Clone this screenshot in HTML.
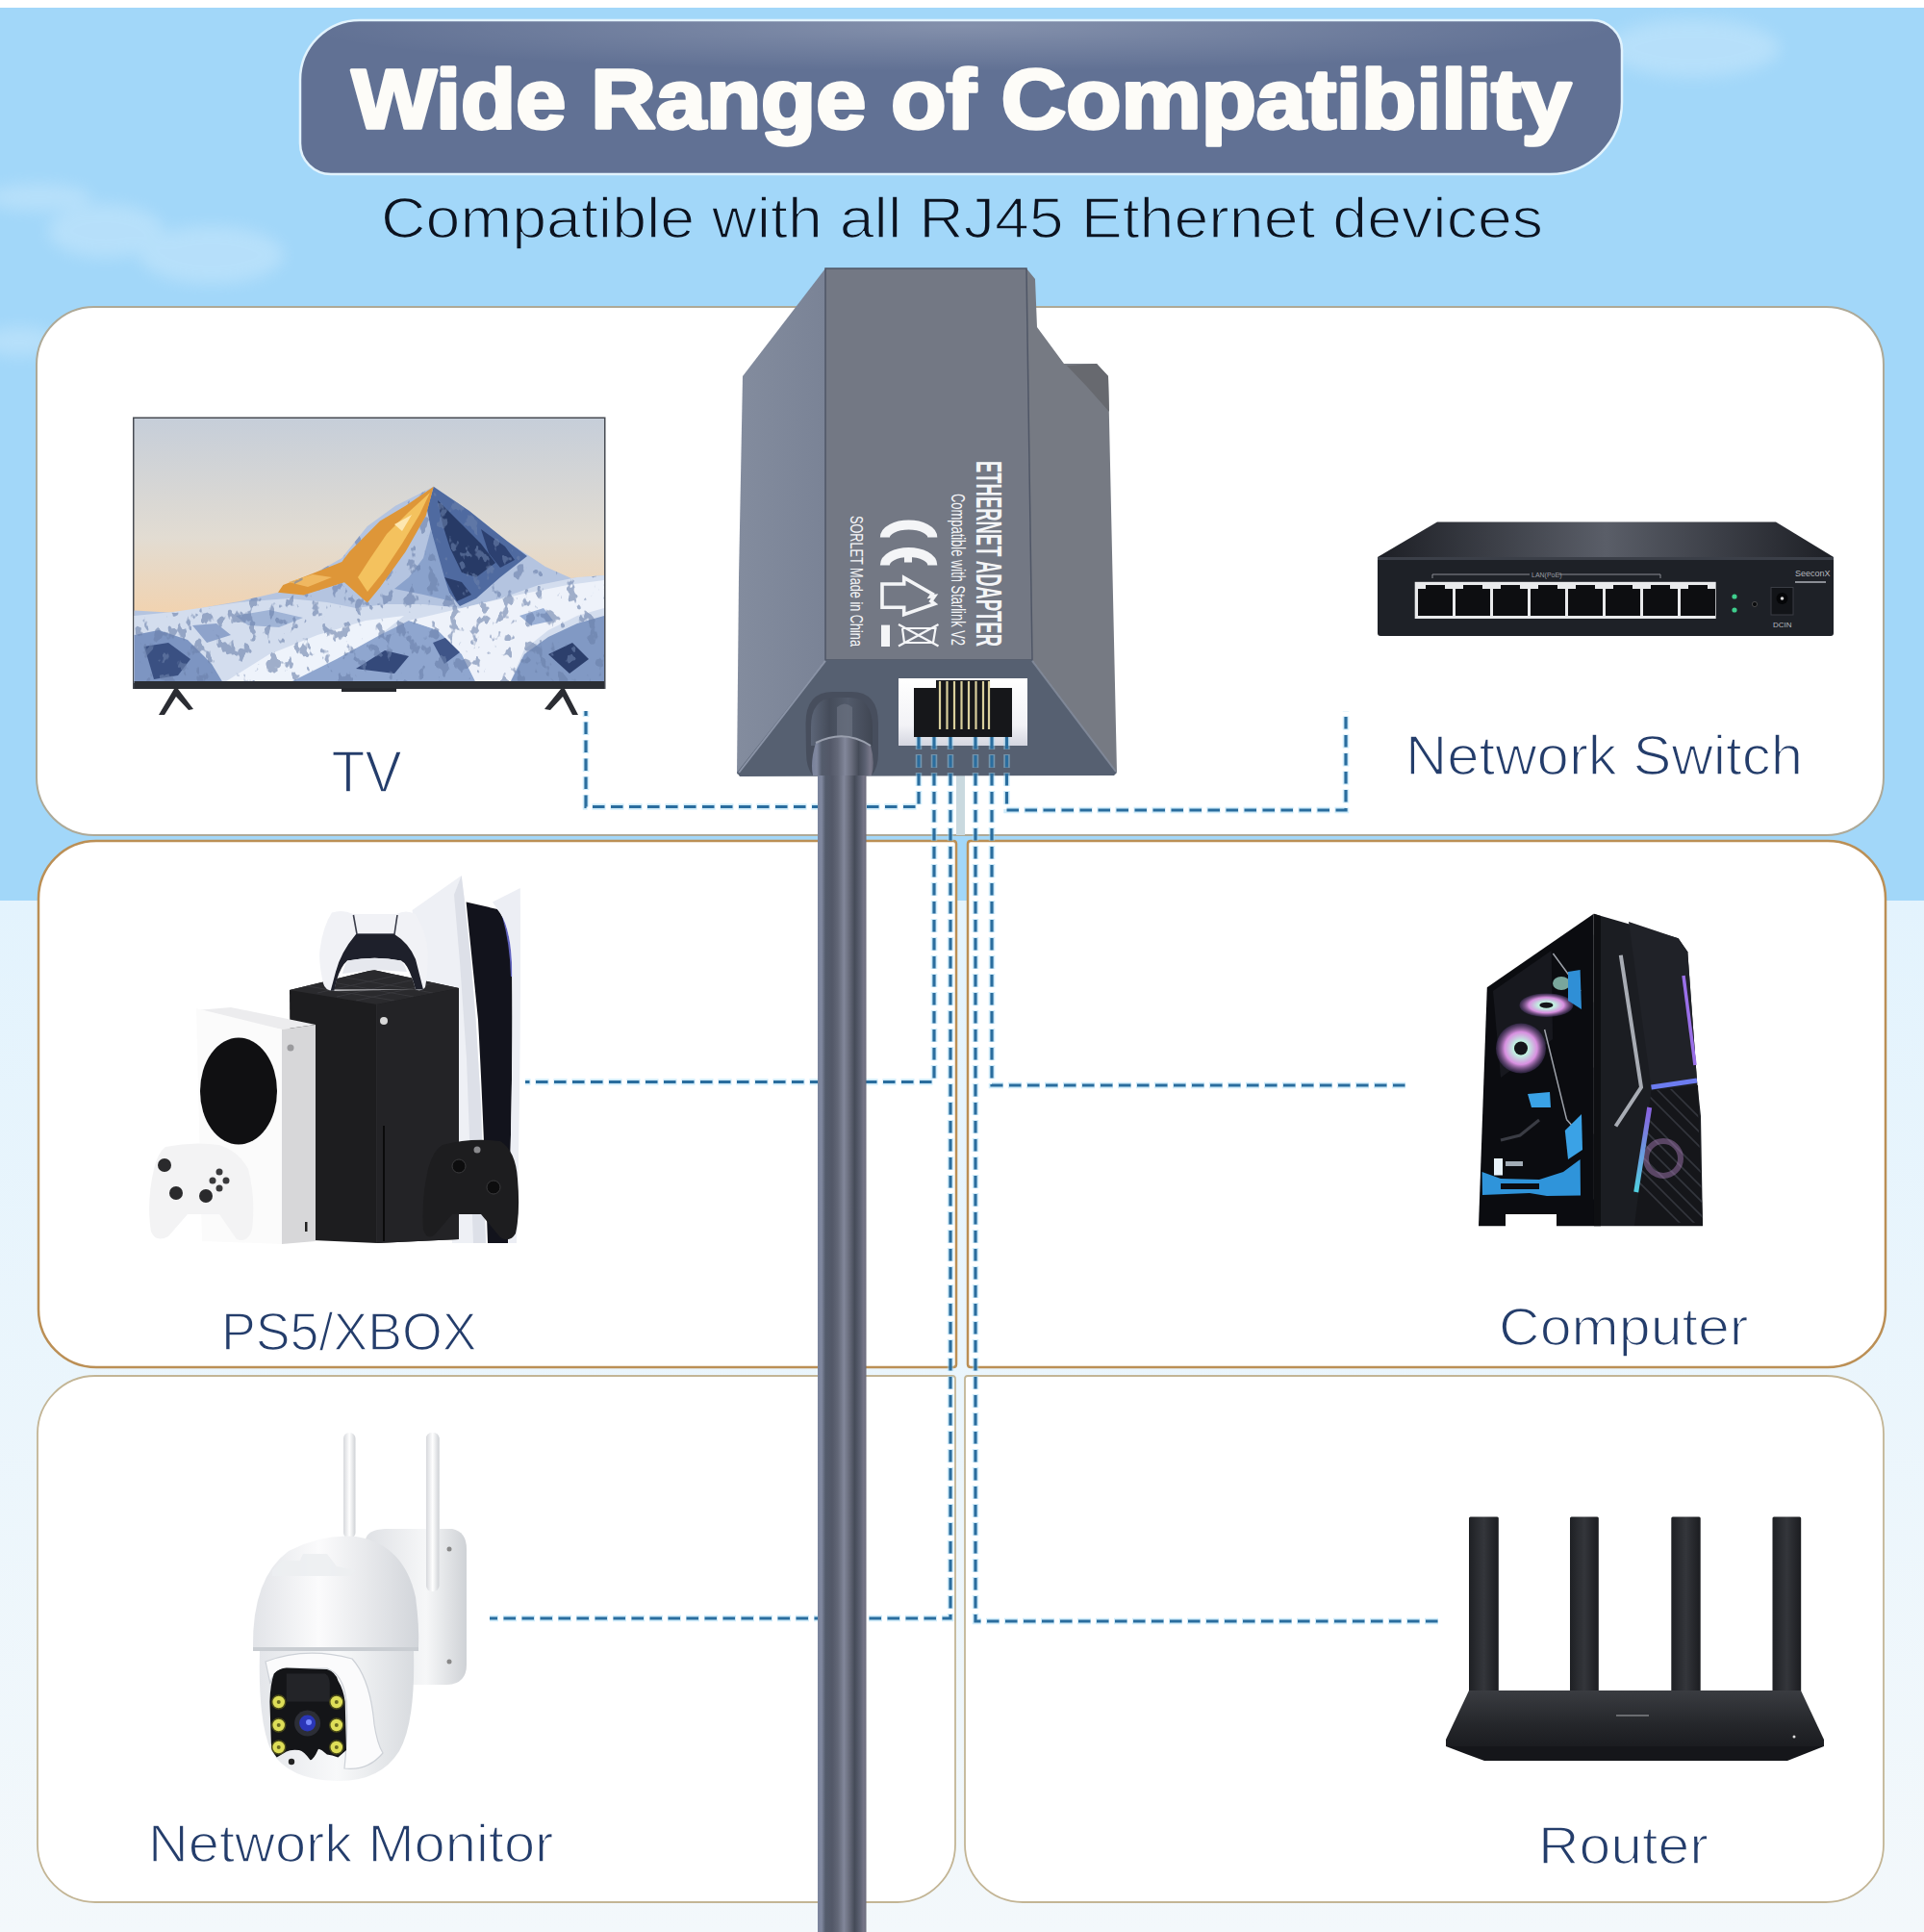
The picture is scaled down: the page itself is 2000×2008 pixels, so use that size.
<!DOCTYPE html>
<html><head><meta charset="utf-8">
<style>
html,body{margin:0;padding:0;width:2000px;height:2008px;overflow:hidden;background:#fff;}
svg{display:block;font-family:"Liberation Sans",sans-serif;}
</style></head>
<body>
<svg width="2000" height="2008" viewBox="0 0 2000 2008">
<defs>
  <filter id="rock" x="0" y="0" width="100%" height="100%">
    <feTurbulence type="fractalNoise" baseFrequency="0.09 0.06" numOctaves="3" seed="7" result="n"/>
    <feColorMatrix in="n" type="matrix" values="0 0 0 0 0.15  0 0 0 0 0.22  0 0 0 0 0.40  -16 0 0 0 6.6" result="c"/>
    <feComposite in="c" in2="SourceGraphic" operator="in"/>
  </filter>
  <clipPath id="tvMount"><path clip-rule="evenodd" d="M139.5 634.4 L183 637 L217.5 630.4 L249 625 L289 615.8 L320 600 L355.3 580 L381.8 547 L411 525.7 L450.7 505.8 L487.8 531 L527.6 562.8 L567 589 L593.8 601 L628 598 V708 H139.5 Z M450.7 505.8 L421.5 525.7 L395 541.6 L363.2 573.4 L355.3 584 L320 598 L294.3 607.9 L289 615.8 L315.5 618.5 L358 605.2 L381.8 626.4 L395 610.5 L421.5 573.4 L442.7 536.3 Z"/></clipPath>
  <clipPath id="pcGrill"><path d="M1716.5 1133.5 L1764 1130 L1770 1270.7 H1699 Z"/></clipPath>
  <linearGradient id="ledG" x1="0" y1="0" x2="0" y2="1"><stop offset="0" stop-color="#8a60e0"/><stop offset="1" stop-color="#50d0e0"/></linearGradient>
  <clipPath id="xbTop"><path d="M301 1029 L388 1008 L477 1027 L392 1044 Z"/></clipPath>
  <filter id="blur8" x="-50%" y="-50%" width="200%" height="200%"><feGaussianBlur stdDeviation="8"/></filter>
  <linearGradient id="bgLow" x1="0" y1="0" x2="0" y2="1">
    <stop offset="0" stop-color="#e3f3fd"/>
    <stop offset="1" stop-color="#f3f8fb"/>
  </linearGradient>
  <linearGradient id="cableG" x1="0" y1="0" x2="1" y2="0">
    <stop offset="0" stop-color="#7a839c"/>
    <stop offset="0.08" stop-color="#80889f"/>
    <stop offset="0.16" stop-color="#545c6c"/>
    <stop offset="0.3" stop-color="#535868"/>
    <stop offset="0.42" stop-color="#636878"/>
    <stop offset="0.54" stop-color="#82879a"/>
    <stop offset="0.64" stop-color="#6a6e7e"/>
    <stop offset="0.76" stop-color="#454b58"/>
    <stop offset="0.87" stop-color="#5c6172"/>
    <stop offset="0.95" stop-color="#777789"/>
    <stop offset="1" stop-color="#6a6a7a"/>
  </linearGradient>
  <linearGradient id="collarG" x1="0" y1="0" x2="1" y2="0">
    <stop offset="0" stop-color="#5c6577"/>
    <stop offset="0.3" stop-color="#454c5a"/>
    <stop offset="0.6" stop-color="#525a6a"/>
    <stop offset="1" stop-color="#404653"/>
  </linearGradient>
  <linearGradient id="leftG" x1="0" y1="0" x2="1" y2="0">
    <stop offset="0" stop-color="#838c9e"/>
    <stop offset="1" stop-color="#7a8396"/>
  </linearGradient>
  <linearGradient id="portG" x1="0" y1="0" x2="0" y2="1">
    <stop offset="0" stop-color="#ffffff"/>
    <stop offset="0.7" stop-color="#f2f2f6"/>
    <stop offset="1" stop-color="#d4d6e0"/>
  </linearGradient>
  <linearGradient id="tvSky" x1="0" y1="0" x2="0" y2="1">
    <stop offset="0" stop-color="#c6ced9"/>
    <stop offset="0.45" stop-color="#e2dcd2"/>
    <stop offset="0.75" stop-color="#f2d2ae"/>
    <stop offset="1" stop-color="#f0c9a2"/>
  </linearGradient>
  <linearGradient id="swTop" x1="0" y1="0" x2="1" y2="0">
    <stop offset="0" stop-color="#1d1f25"/>
    <stop offset="0.5" stop-color="#5a5e68"/>
    <stop offset="1" stop-color="#1d1f25"/>
  </linearGradient>
  <radialGradient id="fanG">
    <stop offset="0" stop-color="#ffffff"/>
    <stop offset="0.3" stop-color="#c0f0e0"/>
    <stop offset="0.65" stop-color="#d890e0"/>
    <stop offset="1" stop-color="#40305a" stop-opacity="0.6"/>
  </radialGradient>
  <linearGradient id="antG" x1="0" y1="0" x2="1" y2="0">
    <stop offset="0" stop-color="#d6d8dc"/>
    <stop offset="0.5" stop-color="#ffffff"/>
    <stop offset="1" stop-color="#cfd2d6"/>
  </linearGradient>
  <linearGradient id="mountG" x1="0" y1="0" x2="1" y2="0">
    <stop offset="0" stop-color="#dfe1e5"/>
    <stop offset="0.6" stop-color="#f6f7f8"/>
    <stop offset="1" stop-color="#cfd2d6"/>
  </linearGradient>
  <linearGradient id="domeG" x1="0" y1="0" x2="1" y2="0">
    <stop offset="0" stop-color="#e2e4e8"/>
    <stop offset="0.4" stop-color="#fbfbfc"/>
    <stop offset="1" stop-color="#d2d5da"/>
  </linearGradient>
  <linearGradient id="bodyG" x1="0" y1="0" x2="1" y2="0">
    <stop offset="0" stop-color="#e4e6ea"/>
    <stop offset="0.5" stop-color="#f8f9fa"/>
    <stop offset="1" stop-color="#d8dbdf"/>
  </linearGradient>
  <linearGradient id="rAnt" x1="0" y1="0" x2="1" y2="0">
    <stop offset="0" stop-color="#1e2024"/>
    <stop offset="0.5" stop-color="#34363b"/>
    <stop offset="1" stop-color="#1b1c20"/>
  </linearGradient>
  <linearGradient id="rBody" x1="0" y1="0" x2="0" y2="1">
    <stop offset="0" stop-color="#3a3c41"/>
    <stop offset="0.6" stop-color="#25272b"/>
    <stop offset="1" stop-color="#1b1c20"/>
  </linearGradient>
  <radialGradient id="pillHi" cx="0.5" cy="0.05" r="0.5" gradientTransform="translate(0 0) scale(1 0.6)">
    <stop offset="0" stop-color="#ffffff" stop-opacity="0.22"/>
    <stop offset="1" stop-color="#ffffff" stop-opacity="0"/>
  </radialGradient>
</defs>

<!-- background -->
<rect x="0" y="0" width="2000" height="8" fill="#ffffff"/>
<rect x="0" y="8" width="2000" height="928" fill="#a2d7f9"/>
<rect x="0" y="936" width="2000" height="1072" fill="url(#bgLow)"/>
<g fill="#ffffff" opacity="0.22" filter="url(#blur8)">
  <ellipse cx="40" cy="205" rx="55" ry="14"/>
  <ellipse cx="110" cy="240" rx="60" ry="28"/>
  <ellipse cx="220" cy="265" rx="75" ry="30"/>
  <ellipse cx="20" cy="355" rx="40" ry="15"/>
  <ellipse cx="1760" cy="50" rx="90" ry="30"/>
</g>

<!-- title pill -->
<path d="M374 21 H1655 A31 31 0 0 1 1686 52 V106 A75 75 0 0 1 1611 181 H344 A32 32 0 0 1 312 149 V83 A62 62 0 0 1 374 21 Z" fill="#617194" stroke="#e2f3fd" stroke-width="2.5"/>
<path d="M374 22 H1655 A30 30 0 0 1 1685 52 V106 A74 74 0 0 1 1611 180 H344 A31 31 0 0 1 313 149 V83 A61 61 0 0 1 374 22 Z" fill="url(#pillHi)"/>
<text x="365.5" y="133.3" font-size="87.5" font-weight="bold" fill="#fdfcf8" stroke="#fdfcf8" stroke-width="3.5" stroke-linejoin="round" textLength="1268" lengthAdjust="spacingAndGlyphs">Wide Range of Compatibility</text>
<text x="396" y="246.5" font-size="59" fill="#0c1320" stroke="#a2d7f9" stroke-width="1.5" textLength="1208" lengthAdjust="spacingAndGlyphs">Compatible with all RJ45 Ethernet devices</text>

<!-- cards -->
<g id="cards" fill="#ffffff" stroke-width="2">
  <rect x="38" y="319" width="1920" height="549" rx="60" stroke="#aea997"/>
  <path d="M100 874 H991 Q994 874 994 877 V1418 Q994 1421 991 1421 H100 A60 60 0 0 1 40 1361 V934 A60 60 0 0 1 100 874 Z" stroke="#bb8f55" stroke-width="2.5"/>
  <path d="M1009 874 H1900 A60 60 0 0 1 1960 934 V1361 A60 60 0 0 1 1900 1421 H1009 Q1006 1421 1006 1418 V877 Q1006 874 1009 874 Z" stroke="#bb8f55" stroke-width="2.5"/>
  <path d="M99 1430 H990 Q993 1430 993 1433 V1917 A60 60 0 0 1 933 1977 H99 A60 60 0 0 1 39 1917 V1490 A60 60 0 0 1 99 1430 Z" stroke="#c3b595" stroke-width="1.8"/>
  <path d="M1006 1430 H1898 A60 60 0 0 1 1958 1490 V1917 A60 60 0 0 1 1898 1977 H1063 A60 60 0 0 1 1003 1917 V1433 Q1003 1430 1006 1430 Z" stroke="#c3b595" stroke-width="1.8"/>
</g>
<rect x="994" y="805" width="9" height="63" fill="#c9d9df"/>


<!-- labels -->
<g fill="#243d6b" stroke="#ffffff" stroke-width="1.6">
  <text x="344.5" y="823.3" font-size="60.5" textLength="73" lengthAdjust="spacingAndGlyphs">TV</text>
  <text x="1461" y="804.6" font-size="56.5" textLength="413" lengthAdjust="spacingAndGlyphs">Network Switch</text>
  <text x="230" y="1402.9" font-size="56" textLength="265.6" lengthAdjust="spacingAndGlyphs">PS5/XBOX</text>
  <text x="1558" y="1398.2" font-size="56" textLength="259.5" lengthAdjust="spacingAndGlyphs">Computer</text>
  <text x="154" y="1934.5" font-size="56" textLength="421.4" lengthAdjust="spacingAndGlyphs">Network Monitor</text>
  <text x="1599" y="1937" font-size="56" textLength="176.8" lengthAdjust="spacingAndGlyphs">Router</text>
</g>

<!-- DEVICES -->
<!-- TV -->
<g id="tv">
  <rect x="138" y="433.5" width="491.5" height="282.5" fill="#474b52"/>
  <rect x="139.5" y="435" width="488.5" height="275" fill="url(#tvSky)"/>
  <!-- main mountain base -->
  <path d="M139.5 634.4 L183 637 L217.5 630.4 L249 625 L289 615.8 L320 600 L355.3 580 L381.8 547 L411 525.7 L450.7 505.8 L487.8 531 L527.6 562.8 L567 589 L593.8 601 L628 598 V710 H139.5 Z" fill="#b4c4e0"/>
  <!-- right face shadow -->
  <path d="M450.7 505.8 L487.8 531 L527.6 562.8 L548 578 L520 600 L495 622 L478 630 L462 610 L455 585 L448 550 L444 530 Z" fill="#4f6aa0"/>
  <path d="M455 520 L475 540 L500 565 L515 585 L495 600 L480 595 L468 570 L460 545 Z" fill="#273a66"/>
  <path d="M500 550 L525 568 L535 582 L520 590 L508 575 Z" fill="#2c4070"/>
  <path d="M462 600 L480 605 L490 618 L475 625 Z" fill="#2a3d6a"/>
  <path d="M448 550 L440 580 L425 600 L410 612 L440 618 L470 625 L462 600 L455 575 Z" fill="#8aa2cc"/>
  <!-- golden face -->
  <path d="M450.7 505.8 L421.5 525.7 L395 541.6 L363.2 573.4 L355.3 584 L320 598 L294.3 607.9 L289 615.8 L315.5 618.5 L358 605.2 L381.8 626.4 L395 610.5 L421.5 573.4 L442.7 536.3 Z" fill="#de9638"/>
  <path d="M447 512 L425 532 L402 555 L385 580 L372 600 L382 615 L398 595 L418 565 L436 535 Z" fill="#f4c25e"/>
  <path d="M300 605 L325 597 L345 600 L320 610 Z" fill="#f0b860"/>
  <path d="M428 535 L418 552 L410 545 Z" fill="#fde7b0"/>
  <!-- foreground snowfield -->
  <path d="M139.5 640 L180 636 L249 626 L300 622 L340 626 L370 632 L400 628 L440 628 L480 632 L520 622 L560 608 L600 600 L628 598 V710 H139.5 Z" fill="#d3ddee"/>
  <path d="M139.5 660 L165 655 L195 665 L220 690 L232 710 H139.5 Z" fill="#7d95c2"/>
  <path d="M150 672 L175 668 L198 685 L185 702 L160 706 Z" fill="#3a5082"/>
  <path d="M200 650 L225 648 L240 660 L215 668 Z" fill="#8ea3cb"/>
  <path d="M232 710 L280 680 L330 660 L380 645 L420 640 L395 660 L350 685 L300 710 Z" fill="#eef3fb"/>
  <path d="M300 710 L350 685 L395 660 L425 645 L455 655 L480 680 L495 710 Z" fill="#8fa6cf"/>
  <path d="M370 695 L400 676 L425 682 L410 700 Z" fill="#34497a"/>
  <path d="M450 668 L470 660 L482 675 L462 690 Z" fill="#3f5588"/>
  <path d="M425 645 L480 632 L540 618 L590 608 L628 603 V632 L600 640 L570 655 L545 675 L530 710 H495 L480 680 L455 655 Z" fill="#eef2fa"/>
  <path d="M530 710 L545 680 L570 662 L600 648 L628 640 V710 Z" fill="#8199c4"/>
  <path d="M570 680 L595 668 L612 685 L592 700 Z" fill="#2c3f6c"/>
  <path d="M540 640 L565 632 L575 645 L552 650 Z" fill="#9ab0d6"/>
  <path d="M245 640 L280 634 L315 642 L290 652 L258 650 Z" fill="#a0b4d6"/>
  <g clip-path="url(#tvMount)"><rect x="139.5" y="500" width="488.5" height="210" fill="#000" filter="url(#rock)" opacity="0.6"/></g>
  <rect x="139.5" y="708" width="488.5" height="8" fill="#2b2e34"/>
  <rect x="355" y="715" width="57" height="4" fill="#26282e"/>
  <!-- feet -->
  <path d="M181 716 L185 716 L201 737 L196 738 L183 724 L171 743 L165 743 Z" fill="#2b2d33"/>
  <path d="M583 716 L587 716 L601 743 L595 743 L585 724 L572 738 L566 737 Z" fill="#2b2d33"/>
</g>

<!-- Network switch -->
<g id="switch">
  <path d="M1494 542.5 H1846 L1906 579 V583 H1432 V579 Z" fill="url(#swTop)"/>
  <rect x="1432" y="579" width="474" height="82" rx="3" fill="#1e2127"/>
  <rect x="1432" y="579" width="474" height="3" fill="#3b3f48"/>
  <rect x="1470.7" y="604.8" width="313" height="38.2" fill="#e9eaec"/>
  <g fill="#0d0e11">
    <path d="M1474 612 h8 v-4 h20 v4 h8 v28 h-36 z"/>
    <path d="M1513 612 h8 v-4 h20 v4 h8 v28 h-36 z"/>
    <path d="M1552 612 h8 v-4 h20 v4 h8 v28 h-36 z"/>
    <path d="M1591 612 h8 v-4 h20 v4 h8 v28 h-36 z"/>
    <path d="M1630 612 h8 v-4 h20 v4 h8 v28 h-36 z"/>
    <path d="M1669 612 h8 v-4 h20 v4 h8 v28 h-36 z"/>
    <path d="M1708 612 h8 v-4 h20 v4 h8 v28 h-36 z"/>
    <path d="M1747 612 h8 v-4 h20 v4 h8 v28 h-36 z"/>
  </g>
  <path d="M1489 601 V597 H1726 V601" stroke="#8a8d94" stroke-width="1" fill="none"/>
  <rect x="1590" y="593" width="30" height="8" fill="#1e2127"/>
  <text x="1592" y="600" font-size="7" fill="#9a9da4">LAN(PoE)</text>
  <circle cx="1803" cy="620" r="2.6" fill="#3fcf8e"/>
  <circle cx="1803" cy="634" r="2.6" fill="#3fcf8e"/>
  <circle cx="1824" cy="628" r="2.6" fill="#0a0b0d" stroke="#555" stroke-width="0.8"/>
  <rect x="1841" y="610.5" width="23" height="28.5" fill="#121418" stroke="#3a3d44" stroke-width="1"/>
  <circle cx="1852.5" cy="622" r="6" fill="#050608"/>
  <circle cx="1852.5" cy="622" r="1.8" fill="#d8d8d8"/>
  <text x="1843" y="652" font-size="8" fill="#b5b8be">DCIN</text>
  <text x="1866" y="599" font-size="9" fill="#b5b8be">SeeconX</text>
  <rect x="1866" y="604" width="32" height="2" fill="#8a8d94"/>
</g>

<!-- Consoles -->
<g id="consoles">
  <!-- PS5 plates & core -->
  <path d="M428.5 946 L479.7 910 L483 937 L489.6 1000 L494.6 1060 L500 1150 L505 1292 H470 L450 1100 Z" fill="#eef0f5"/>
  <path d="M479.7 910 L483 937 L489.6 1000 L494.6 1060 L500 1150 L505 1292 H492 L485 1100 L478 1000 L472 930 Z" fill="#dde0e8"/>
  <path d="M484.6 937.4 L517 945 Q530 960 532 1000 Q534 1100 528 1292 H507 Q502 1150 497 1060 Q490 990 484.6 937.4 Z" fill="#12131c"/>
  <path d="M524 952 Q532 980 533 1015" stroke="#7a7cf0" stroke-width="4" fill="none" opacity="0.75"/>
  <path d="M512 937.4 L540.8 923 Q542 1100 537 1292 H528 Q534 1100 532 1000 Q530 960 517 945 Z" fill="#eceef4"/>
  <!-- Xbox Series X -->
  <path d="M301 1029 L388 1008 L477 1027 L477 1288 L392 1292 L303 1288 Z" fill="#1d1d1f"/>
  <path d="M301 1029 L388 1008 L477 1027 L392 1044 Z" fill="#2a2a2d"/>
  <g stroke="#3c3c40" stroke-width="1" opacity="0.8" clip-path="url(#xbTop)"><path d="M320 1025 L410 1040 M340 1020 L430 1036 M360 1016 L450 1032 M330 1032 L420 1012 M350 1036 L440 1016 M370 1040 L460 1020"/></g>
  <path d="M392 1044 V1292" stroke="#2c2c30" stroke-width="1.5"/>
  <path d="M392 1044 L477 1027 V1288 L392 1292 Z" fill="#232326"/>
  <circle cx="399" cy="1061" r="4" fill="#d8d8d8"/>
  <rect x="398" y="1170" width="2" height="120" fill="#0a0a0b"/>
  <!-- DualSense -->
  <path fill-rule="evenodd" d="M345 948.6 Q356 945 367 950 H412 Q422 945 432 950 Q444 970 444.7 990 Q445 1010 442 1026 Q438 1031 432 1028.5 L347 1029.7 Q338 1030 336 1022 Q331 1000 332.5 987 Q336 962 345 948.6 Z M361 998.5 Q390 993 417 998.5 Q425 1002 432 1028.5 H347.4 Q352 1006 361 998.5 Z" fill="#f1f2f6"/>
  <path d="M367.4 951 L371 971 H410 L413 951" stroke="#3a3d4a" stroke-width="1.6" fill="none"/>
  <path d="M370 971 H410 Q425 980 432 997 L440 1028.5 L432 1028.5 Q425 1002 417 998.5 Q390 993 361 998.5 Q352 1006 347.4 1029.7 L343.7 1029.7 L349 1010 Q354 990 370 971 Z" fill="#1e202b"/>
  <path d="M361 998.5 Q390 993 417 998.5 Q421 1003 423 1010 L390 1008 L356 1012 Q358 1003 361 998.5 Z" fill="#e6e8ee"/>
  <!-- Xbox Series S -->
  <path d="M204 1050 L240 1047 L328 1065 L293 1070 Z" fill="#ececee"/>
  <path d="M204 1048 L293 1070 V1293 L210 1290 Z" fill="#fbfbfb"/>
  <path d="M293 1070 L328 1065 V1290 L293 1293 Z" fill="#d7d7d9"/>
  <ellipse cx="248" cy="1134" rx="40" ry="55.5" fill="#101012"/>
  <circle cx="302" cy="1089" r="3.5" fill="#9a9a9d"/>
  <rect x="317" y="1270" width="2.5" height="10" fill="#222"/>
  <!-- white controller -->
  <path d="M172 1192 Q200 1186 228 1190 Q248 1196 258 1215 Q266 1245 262 1278 Q258 1292 246 1288 L228 1262 H195 L175 1285 Q162 1292 157 1280 Q152 1250 160 1215 Q164 1198 172 1192 Z" fill="#f3f3f4"/>
  <circle cx="171" cy="1211" r="7" fill="#2a2a2c"/>
  <circle cx="214" cy="1243" r="7" fill="#2a2a2c"/>
  <circle cx="183" cy="1240" r="7" fill="#2a2a2c"/>
  <circle cx="228" cy="1218" r="3.5" fill="#3a3a3c"/>
  <circle cx="221" cy="1227" r="3.5" fill="#3a3a3c"/>
  <circle cx="235" cy="1227" r="3.5" fill="#3a3a3c"/>
  <circle cx="228" cy="1235" r="3.5" fill="#3a3a3c"/>
  <!-- black controller -->
  <path d="M460 1190 Q490 1182 520 1186 Q536 1196 538 1225 Q541 1260 536 1282 Q530 1292 520 1286 L500 1262 H470 L452 1283 Q444 1290 440 1278 Q438 1245 445 1215 Q450 1196 460 1190 Z" fill="#1d1d1f"/>
  <circle cx="477" cy="1212" r="7" fill="#0d0d0e" stroke="#3a3a3c" stroke-width="1"/>
  <circle cx="513" cy="1234" r="7" fill="#0d0d0e" stroke="#3a3a3c" stroke-width="1"/>
  <circle cx="496" cy="1195" r="3.5" fill="#8a8a8d"/>
</g>

<!-- Computer -->
<g id="pc">
  <!-- side glass -->
  <path d="M1545.8 1026.2 L1656.7 949.7 L1657 1274.3 H1537 Z" fill="#0b0c10"/>
  <path d="M1552 1030 L1612.7 988 L1614 1080 L1560 1120 Z" fill="#1a1c22" opacity="0.8"/>
  <!-- front panel -->
  <path d="M1656.7 949.7 L1744.6 975.2 L1754.3 989.3 L1764 1123 L1768 1160 L1770 1274.3 H1657 Z" fill="#1b1d22"/>
  <path d="M1657 949.7 L1664 952 L1664 1274.3 H1657 Z" fill="#0e0f12"/>
  <path d="M1693 958 L1744.6 975.2 L1754.3 989.3 L1764 1123 L1716.5 1130 Z" fill="#202228"/>
  <!-- grill -->
  <path d="M1716.5 1133.5 L1765 1128 L1770 1274 H1699 Z" fill="#15161a"/>
  <g stroke="#33353c" stroke-width="1.6" clip-path="url(#pcGrill)">
    <path d="M1690 1140 L1780 1230 M1690 1155 L1780 1245 M1690 1170 L1780 1260 M1690 1185 L1780 1275 M1690 1200 L1780 1290 M1700 1125 L1780 1205 M1715 1125 L1780 1190 M1730 1125 L1780 1175 M1690 1215 L1760 1285"/>
  </g>
  <circle cx="1729" cy="1204" r="18" fill="none" stroke="#b080c0" stroke-width="6" opacity="0.45"/>
  <!-- silver stripe -->
  <path d="M1684.8 992.8 L1706 1130 L1679.5 1170.5" stroke="#a8acb4" stroke-width="4" fill="none"/>
  <!-- LEDs -->
  <path d="M1716.5 1130 L1764 1123" stroke="#6c7cf0" stroke-width="5" fill="none"/>
  <path d="M1750 1014 L1762 1107" stroke="#9a70e8" stroke-width="3.5" fill="none"/>
  <path d="M1714.7 1151 L1700.7 1239" stroke="url(#ledG)" stroke-width="5" fill="none"/>
  <!-- fans -->
  <circle cx="1581" cy="1089.5" r="26" fill="url(#fanG)"/>
  <circle cx="1581" cy="1089.5" r="7" fill="#15151a"/>
  <ellipse cx="1607.4" cy="1044.7" rx="28" ry="12.3" fill="url(#fanG)"/>
  <ellipse cx="1607.4" cy="1044.7" rx="7" ry="3" fill="#15151a"/>
  <ellipse cx="1623" cy="1022" rx="9" ry="7" fill="#a8e8d8" opacity="0.7"/>
  <!-- glass internals -->
  <path d="M1614.4 991 L1643 1030 M1605.6 1070 L1628.5 1163.4 M1628.5 1163.4 L1643 1180" stroke="#9ea2aa" stroke-width="1.5" fill="none"/>
  <path d="M1630 1010 L1642.6 1008 L1644 1049 L1630 1040 Z" fill="#2f8fd6"/>
  <path d="M1588 1137 L1611 1135 L1612 1151 L1592 1151 Z" fill="#3aa2e6"/>
  <path d="M1626.8 1175 L1644 1158 L1645 1195 L1630 1205 Z" fill="#3aa2e6"/>
  <path d="M1540.6 1218 L1560 1225 L1600 1226 L1625 1218 L1642.6 1205 L1643 1242.6 L1608 1243 L1590 1240 L1541 1242 Z" fill="#2f94da"/>
  <path d="M1560 1230 H1600 V1236 H1560 Z" fill="#0b0c10"/>
  <rect x="1553" y="1204" width="9" height="17.5" fill="#e8f2fa"/>
  <rect x="1565" y="1207" width="18" height="5" fill="#c8d4e0" opacity="0.8"/>
  <path d="M1600 1164 L1580 1180 L1560 1185" stroke="#3a3c44" stroke-width="3" fill="none"/>
  <!-- feet gap -->
  <rect x="1565" y="1262" width="53" height="13" fill="#ffffff"/>
</g>

<!-- Camera -->
<g id="camera">
  <rect x="357" y="1489" width="12.5" height="110" rx="6" fill="url(#antG)"/>
  <rect x="443" y="1489" width="13.5" height="165" rx="6" fill="url(#antG)"/>
  <path d="M380 1600 Q382 1590 400 1589 H470 Q485 1592 485 1610 V1730 Q485 1750 465 1751 H420 Q380 1745 380 1700 Z" fill="url(#mountG)"/>
  <circle cx="467" cy="1610" r="2.5" fill="#888"/>
  <circle cx="467" cy="1727" r="2.5" fill="#888"/>
  <rect x="443" y="1489" width="13.5" height="165" rx="6" fill="url(#antG)"/>
  <path d="M263 1712 Q262 1640 300 1612 Q335 1594 370 1597 Q420 1605 432 1660 Q436 1690 435 1712 Z" fill="url(#domeG)"/>
  <path d="M263 1712 H435 V1716 H263 Z" fill="#c9cdd2"/>
  <path d="M270 1716 H430 Q432 1790 415 1820 Q395 1852 350 1851 Q300 1850 282 1820 Q268 1790 270 1716 Z" fill="url(#bodyG)"/>
  <path d="M276 1727 Q318 1711 366 1724 Q385 1745 389 1792 Q392 1812 398 1822 Q382 1841 358 1838 Q362 1800 360 1768 Q357 1740 340 1734 H298 Q284 1735 281 1750 Z" fill="#fbfbfc" stroke="#cdd1d7" stroke-width="1.2"/>
  <path d="M284.8 1739.4 Q290 1734 297.8 1733.6 L339.9 1735 Q349 1738 351.4 1746.7 Q357 1756 358.7 1768.4 L360 1819 L351.4 1826.4 Q345 1824 339.9 1823.5 Q334 1818 331 1817.7 Q326 1829 322.5 1829.3 Q316 1820 310.9 1819 Q302 1818 297.8 1820.6 L287.7 1826.4 Q282 1820 281.9 1811.9 L280.4 1768.4 Q281 1750 284.8 1739.4 Z" fill="#141518"/>
  <path d="M297.8 1739.4 H338 Q342.8 1742 342.8 1750 V1768.4 L297.8 1768.4 Z" fill="#232428"/>
  <circle cx="319.6" cy="1791" r="13.5" fill="#2c2e36"/>
  <circle cx="319.6" cy="1791" r="8.5" fill="#2a36b8"/>
  <circle cx="321" cy="1790" r="3" fill="#7a8cff"/>
  <g fill="#dede58" stroke="#4a4a18" stroke-width="1.5">
    <circle cx="289.7" cy="1769" r="7"/><circle cx="289.7" cy="1793" r="7"/><circle cx="289.7" cy="1816" r="7"/>
    <circle cx="349.8" cy="1769" r="7"/><circle cx="349.8" cy="1793" r="7"/><circle cx="349.8" cy="1816" r="7"/>
  </g>
  <g fill="#6a6a20"><circle cx="289.7" cy="1769" r="2"/><circle cx="289.7" cy="1793" r="2"/><circle cx="289.7" cy="1816" r="2"/><circle cx="349.8" cy="1769" r="2"/><circle cx="349.8" cy="1793" r="2"/><circle cx="349.8" cy="1816" r="2"/></g>
  <circle cx="303" cy="1831" r="3.2" fill="#222"/>
  <path d="M283 1632 L293 1622 H312 L315 1615 H340 L350 1628 L370 1632 L365 1638 H283 Z" fill="#eceef1" opacity="0.9"/>
</g>

<!-- Router -->
<g id="router" fill="#27292d">
  <rect x="1527" y="1576.5" width="30.8" height="182" rx="1.5" fill="url(#rAnt)"/>
  <rect x="1632" y="1576.5" width="29.8" height="182" rx="1.5" fill="url(#rAnt)"/>
  <rect x="1737.3" y="1576.5" width="30.4" height="182" rx="1.5" fill="url(#rAnt)"/>
  <rect x="1842.5" y="1576.5" width="29.7" height="182" rx="1.5" fill="url(#rAnt)"/>
  <path d="M1527 1757 H1872 L1896 1808 V1815 H1503 V1808 Z" fill="url(#rBody)"/>
  <path d="M1503 1815 H1896 L1858 1830 H1543 Z" fill="#15161a"/>
  <rect x="1680" y="1782" width="34" height="2" fill="#6a6c70"/>
  <circle cx="1865" cy="1805" r="1.5" fill="#ddd"/>
</g>

<!-- ADAPTER -->
<g id="adapter">
  <!-- left side -->
  <polygon points="858,279 772,391 768,600 766,805 858,686" fill="url(#leftG)"/>
  <!-- right side -->
  <polygon points="1067,279 1076,290 1078,340 1106,378 1140,378 1152,391 1161,803 1073,686" fill="#767a83"/>
  <polygon points="1109,380 1140,378 1152,391 1153,428 1130,402" fill="#67696f"/>
  <!-- front face -->
  <polygon points="858,279 1067,279 1073,686 858,686" fill="#737884" stroke="#4f5666" stroke-width="1.5"/>
  <!-- bottom face -->
  <polygon points="858,686 1073,686 1161,803 1158,806 769,807 766,803" fill="#566071"/>
  <line x1="858" y1="687" x2="768" y2="803" stroke="#8a93a6" stroke-width="2"/>
  <line x1="1073" y1="687" x2="1160" y2="802" stroke="#7f8797" stroke-width="2"/>
  <!-- port -->
  <rect x="934" y="705" width="134" height="70" fill="url(#portG)"/>
  <path d="M950 715 H973 V707 H1029 V715 H1052 V766 H950 Z" fill="#16171a"/>
  <g stroke="#d9cf9c" stroke-width="2.2">
    <line x1="977" y1="708" x2="977" y2="758"/>
    <line x1="984.5" y1="708" x2="984.5" y2="758"/>
    <line x1="992" y1="708" x2="992" y2="758"/>
    <line x1="999.5" y1="708" x2="999.5" y2="758"/>
    <line x1="1007" y1="708" x2="1007" y2="758"/>
    <line x1="1014.5" y1="708" x2="1014.5" y2="758"/>
    <line x1="1022" y1="708" x2="1022" y2="758"/>
    <line x1="1028" y1="708" x2="1028" y2="758"/>
  </g>
  <!-- printed text -->
  <g fill="#f4f5f7">
    <text transform="translate(1014.5 479) rotate(90)" font-size="36" font-weight="bold" textLength="193" lengthAdjust="spacingAndGlyphs">ETHERNET ADAPTER</text>
    <text transform="translate(988.5 513) rotate(90)" font-size="21" textLength="158" lengthAdjust="spacingAndGlyphs">Compatible with Starlink V2</text>
    <text transform="translate(884 536) rotate(90)" font-size="17.7" textLength="136" lengthAdjust="spacingAndGlyphs">SORLET Made in China</text>
    <rect x="916" y="649.6" width="9" height="22.4"/>
    <rect x="940" y="573" width="8" height="11.5"/>
  </g>
  <g fill="none" stroke="#f4f5f7">
    <path d="M919.9 558.5 A24.7 13 0 0 1 969.3 558.5" stroke-width="10"/>
    <path d="M919.9 587.4 A24.7 13.5 0 0 1 969.3 587.4" stroke-width="10"/>
    <path d="M917 607 H939.7 V600.4 L969.2 617.3 L967.3 620 L971.5 619.5 L967.8 624.8 L971.5 627.6 L939.7 638.8 V631.3 H917 Z" stroke-width="3.6"/>
    <path d="M934 649 L975.5 671.5 M934 671.5 L975.5 649 M938 653 L940 668 H970 L972.5 653 H938" stroke-width="2.2"/>
  </g>
</g>

<!-- dashed connection lines -->
<g fill="none" stroke="#9ad6f6" stroke-width="6.5" stroke-dasharray="14 5" stroke-dashoffset="1" opacity="0.45">
  <path d="M955 766 V838.5 H609 V739"/>
  <path d="M1046.5 766 V842 H1399 V739"/>
  <path d="M971 766 V1124.5 H546"/>
  <path d="M1031 766 V1128 H1462"/>
  <path d="M988 766 V1682 H509"/>
  <path d="M1014 766 V1685 H1496"/>
</g>
<g fill="none" stroke="#2a6d9e" stroke-width="3.2" stroke-dasharray="12.5 6.5">
  <path d="M955 766 V838.5 H609 V739"/>
  <path d="M1046.5 766 V842 H1399 V739"/>
  <path d="M971 766 V1124.5 H546"/>
  <path d="M1031 766 V1128 H1462"/>
  <path d="M988 766 V1682 H509"/>
  <path d="M1014 766 V1685 H1496"/>
</g>

<!-- cable + collar -->
<g id="cable">
  <rect x="850" y="800" width="50.5" height="1208" fill="url(#cableG)"/>
  <path d="M837.5 752 Q837.5 719 866 719 H885 Q913 719 913 752 V782 Q913 798 906 806 H845 Q838 798 838 782 Z" fill="#474e5d"/>
  <path d="M843 756 Q843 726 867 725 H884 Q907 726 907 756 V775 L843 775 Z" fill="url(#collarG)"/>
  <path d="M870 735 Q878 728 886 735 V765 Q878 768 870 765 Z" fill="#6f7686" opacity="0.6"/>
  <path d="M845 806 Q842 792 848 772 Q878 758 905 775 Q910 792 906 806 Z" fill="url(#cableG)"/>
  <path d="M848 772 Q878 757 905 775" stroke="#9aa0ae" stroke-width="2" fill="none"/>
</g>

</svg>
</body></html>
